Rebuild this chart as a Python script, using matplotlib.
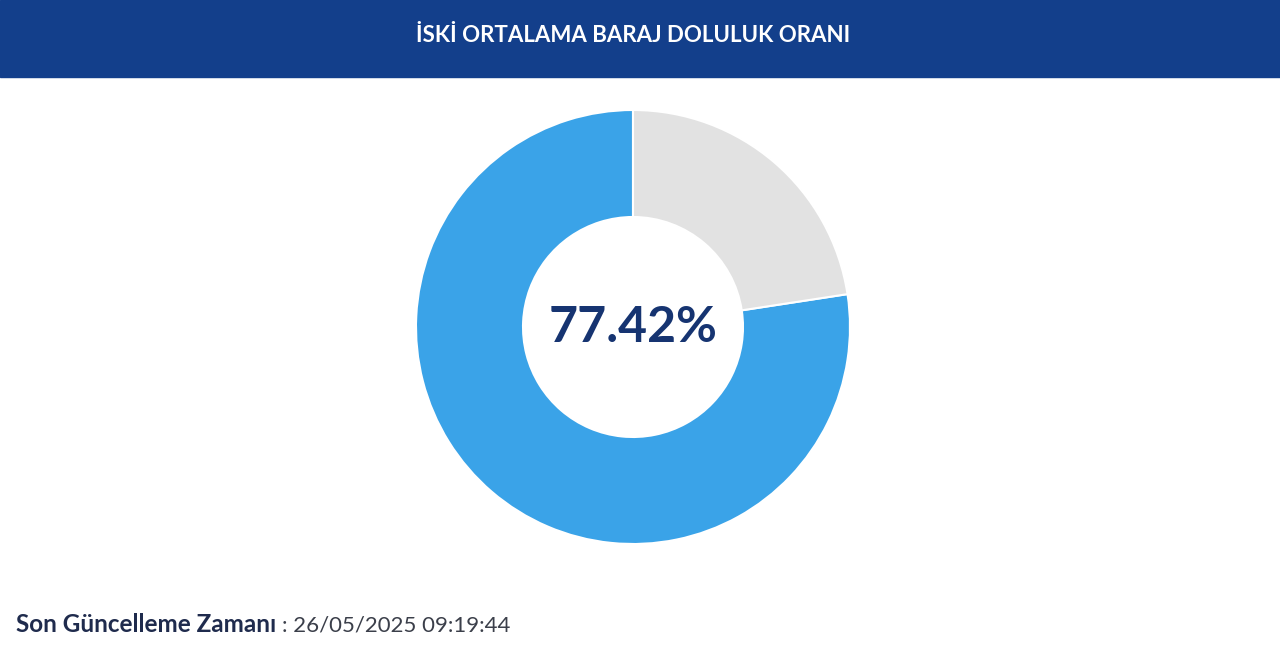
import matplotlib
matplotlib.use("Agg")
import matplotlib.pyplot as plt
from matplotlib.patches import Rectangle

title = "İSKİ ORTALAMA BARAJ DOLULUK ORANI"
labels = ["Dolu", "Boş"]
values = [77.42, 22.58]
colors = ["#3aa3e8", "#e2e2e2"]
footer_label = "Son Güncelleme Zamanı"
footer_value = ": 26/05/2025 09:19:44"

W, H = 1280, 666
fig = plt.figure(figsize=(W / 100, H / 100), dpi=100)
ax = fig.add_axes([0, 0, 1, 1])

# donut
cx, cy = 633, H - 327
ax.pie(values, colors=colors, startangle=90, counterclock=True,
       radius=217, center=(cx, cy),
       wedgeprops=dict(width=107, edgecolor="white", linewidth=1.5))
ax.set_xlim(0, W)
ax.set_ylim(0, H)
ax.set_aspect("auto")
ax.axis("off")

ax.text(cx, cy, f"{values[0]:.2f}%", color="#163471", fontsize=36,
        fontweight="bold", family="Lato", ha="center", va="center")

# header band
ax.add_patch(Rectangle((0, H - 77), W, 77, color="#133f8b", zorder=0))
ax.text(633, H - 36, title, color="white", fontsize=16, fontweight="bold",
        family="Lato", ha="center", va="center")

# footer
t = ax.text(16, H - 625, footer_label, color="#1f2b4d", fontsize=17.5,
            fontweight="bold", family="Lato", ha="left", va="center")
ax.annotate(footer_value, xy=(1, 0.5), xycoords=t, xytext=(4, 0),
            textcoords="offset points", color="#3b3f4a", fontsize=16,
            family="Lato", ha="left", va="center")

fig.savefig("out.png", dpi=100)
